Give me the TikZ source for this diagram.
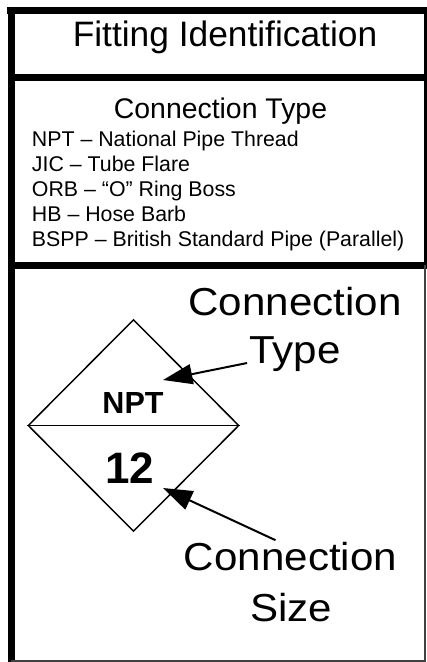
\documentclass[tikz,border=0pt]{standalone}
\usepackage{fontspec}
\setmainfont{Liberation Sans}
\newfontfamily\widefont[FakeStretch=1.08]{Liberation Sans}
\usetikzlibrary{arrows.meta,shapes.geometric,calc}
\tikzset{frameline/.style={line width=5.25pt},
 thinline/.style={line width=1.1pt,draw=black!75},
 lbl/.style={inner sep=0pt,anchor=base},
 bigcap/.style={lbl,font=\widefont\fontsize{29.25pt}{34pt}\selectfont},
 callout/.style={-{Triangle[length=22pt,width=15pt]},line width=1.5pt}}

\begin{document}
\begin{tikzpicture}[x=0.75pt,y=-0.75pt]
\fill[white] (0,0) rectangle (427,662);
\useasboundingbox (0,0) rectangle (427,662);
% frame
\draw[frameline] (11,662)--(11,7);
\draw[frameline] (7,10.5)--(427,10.5);
\draw[frameline] (11,77.5)--(425.5,77.5);
\draw[frameline] (11,265.5)--(425.5,265.5);
\draw[line width=2.25pt] (425.5,7)--(425.5,269);
\draw[thinline] (425,265)--(425,661)--(11,661);
% headings
\node[lbl,font=\fontsize{26.5pt}{30pt}\selectfont] (title) at (225,46) {Fitting Identification};
\node[lbl,font=\fontsize{21.3pt}{25pt}\selectfont] (sub) at (220.5,118.3) {Connection Type};
\foreach \t [count=\i from 0] in {NPT -- National Pipe Thread,JIC -- Tube Flare,ORB -- “O” Ring Boss,HB -- Hose Barb,BSPP -- British Standard Pipe (Parallel)}
 \node[lbl,anchor=base west,font=\fontsize{16pt}{18.75pt}\selectfont] (l\i) at (31.7,146.7+25*\i) {\t};
% symbol
\node[diamond,draw,line width=1.1pt,aspect=1,inner sep=0pt,minimum width=158.25pt,minimum height=159pt] (dia) at (133.5,425.5) {};
\draw[line width=1.1pt] (dia.west)--(dia.east);
\node[lbl,font=\bfseries\fontsize{22.9pt}{26pt}\selectfont] (npt) at (133,413.3) {NPT};
\node[lbl,font=\bfseries\fontsize{33pt}{38pt}\selectfont] (num) at (130,483) {12};
% callouts
\node[bigcap] (tyc) at (295,315) {Connection};
\node[bigcap] (tyt) at (295,363) {Type};
\node[bigcap] (szc) at (290.5,570.7) {Connection};
\node[bigcap] (szs) at (291,621.7) {Size};
\coordinate (typetip) at (163,380);
\coordinate (sizetip) at (163,488);
\draw[callout] ($(tyt.base west)+(-2,0)$)--(typetip);
\draw[callout] ($(szc.north)+(-15,-2)$)--(sizetip);
\end{tikzpicture}
\end{document}
